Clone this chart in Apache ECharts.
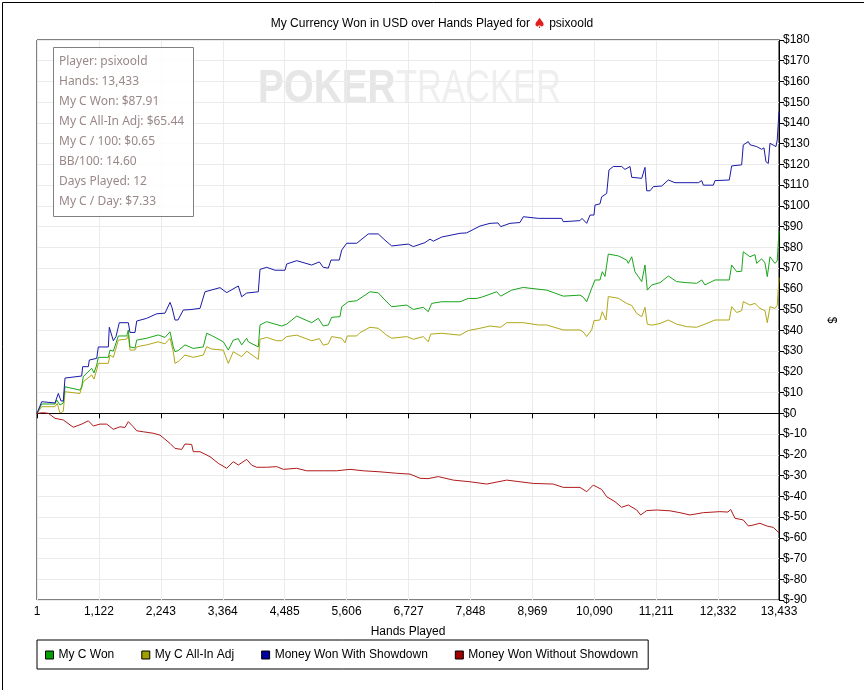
<!DOCTYPE html>
<html>
<head>
<meta charset="utf-8">
<title>My Currency Won</title>
<script src="https://cdn.jsdelivr.net/npm/echarts@6/dist/echarts.min.js"></script>
<style>
    html, body { margin: 0; padding: 0; background: #fff; }
    #chart { width: 864px; height: 690px; }
</style>
</head>
<body>
<div id="chart"></div>
<script>
// 横轴刻度
var handTicks = [1, 1122, 2243, 3364, 4485, 5606, 6727, 7848, 8969, 10090, 11211, 12332, 13433];

// My C Won
var wonHands = [1, 86, 327, 358, 417, 477, 508, 779, 810, 839, 991, 1033, 1082, 1111, 1292, 1322, 1383, 1473, 1625, 1654, 1684, 1775, 1806, 1987, 2197, 2318, 2409, 2468, 2499, 2558, 2680, 2830, 3011, 3073, 3163, 3373, 3464, 3554, 3645, 3706, 3797, 3826, 4007, 4038, 4159, 4219, 4431, 4521, 4702, 4973, 5093, 5183, 5274, 5335, 5485, 5517, 5636, 5788, 6029, 6179, 6300, 6422, 6693, 6813, 6994, 7084, 7145, 7327, 7658, 7808, 7960, 8050, 8322, 8395, 8594, 8804, 8926, 9228, 9528, 9830, 9890, 9952, 10042, 10102, 10192, 10234, 10283, 10343, 10524, 10676, 10705, 10767, 10825, 10948, 11007, 11049, 11129, 11279, 11430, 11580, 11762, 11943, 12034, 12093, 12274, 12533, 12576, 12667, 12757, 12786, 12907, 12998, 13029, 13119, 13179, 13221, 13270, 13360, 13401, 13433];
var wonValues = [0, 4.5, 4.5, 6.4, 4, 5, 12.8, 11.2, 12.8, 17.7, 21.7, 19.5, 23.3, 27, 27, 30.5, 30, 37.3, 37.3, 40.2, 32, 31.5, 35.3, 36.2, 37.8, 36.6, 39.3, 32, 29.7, 30.3, 33, 31.3, 32, 38.6, 37.5, 34.5, 30.5, 35.3, 36, 33, 36.2, 34.5, 32, 42.6, 44.2, 43.7, 42.1, 43, 46.9, 43.7, 45.8, 42.1, 42.6, 46.3, 46.6, 51.4, 53.8, 54.3, 58.6, 58.1, 54.6, 51.4, 52.2, 50.1, 51.1, 49, 53, 53.8, 53.8, 55.4, 55.4, 56, 58.6, 56.5, 59.4, 60.7, 60.3, 59.4, 56.5, 57, 56, 53.8, 60.3, 64.3, 64.3, 68.3, 66, 76.8, 75.9, 73.9, 72.3, 75.5, 68.3, 63.5, 71.5, 59.4, 61.9, 63, 66.2, 63.5, 63, 62.7, 64.3, 61.9, 64.3, 64.3, 71.5, 68.3, 68.5, 77.9, 75.5, 76.5, 72.3, 74.5, 72.5, 65.9, 75.5, 72.3, 73.5, 87.91];

// My C All-In Adj
var adjHands = [1, 86, 327, 368, 417, 477, 508, 779, 839, 991, 1033, 1082, 1111, 1292, 1322, 1383, 1473, 1625, 1654, 1684, 1775, 1806, 1987, 2197, 2318, 2409, 2468, 2499, 2558, 2680, 2830, 3011, 3073, 3163, 3373, 3464, 3554, 3706, 3797, 4007, 4038, 4159, 4340, 4431, 4521, 4702, 4973, 5111, 5183, 5274, 5335, 5517, 5576, 5618, 5788, 5848, 6029, 6179, 6331, 6422, 6693, 6813, 6994, 7084, 7128, 7327, 7658, 7808, 8020, 8202, 8395, 8504, 8804, 9076, 9228, 9528, 9830, 9890, 9952, 10042, 10084, 10192, 10234, 10301, 10343, 10524, 10676, 10767, 10857, 10948, 11007, 11049, 11129, 11279, 11430, 11580, 11762, 11943, 12093, 12274, 12533, 12576, 12667, 12757, 12786, 12907, 12998, 13089, 13179, 13221, 13270, 13360, 13401, 13433];
var adjValues = [0, 3.2, 3.2, 4.8, 0, 1, 10.4, 9.6, 15.2, 18.5, 16.5, 20.9, 24.1, 24.1, 28.1, 27, 35.3, 35.8, 37.7, 30.5, 30.5, 32.1, 33, 34.5, 33.5, 36.2, 29.7, 24.1, 25, 28.1, 27, 28.1, 32.1, 31, 30.5, 24.1, 29.7, 27.3, 30, 26, 35.7, 36.6, 35, 35, 37, 37.7, 35, 36, 32.9, 33.5, 37, 36.2, 34, 37.3, 37.3, 38.9, 41.5, 41, 37.7, 36.2, 37, 35.7, 37, 34.5, 38.2, 38.6, 37.7, 39.9, 41, 42.1, 41.5, 43.7, 43.7, 42.6, 42.6, 40.2, 40.2, 39.2, 37, 40.2, 44.7, 45, 49, 45, 56.3, 55.5, 53, 52, 48.2, 46.6, 51.1, 43, 42.5, 43.3, 45, 43, 41.8, 41.5, 43, 45, 45, 51.4, 48.6, 49.5, 53.9, 52.2, 53, 50.6, 49.5, 43.7, 51.4, 50.6, 52, 65.44];

// Money Won With Showdown
var sdHands = [1, 86, 327, 387, 435, 477, 508, 810, 828, 930, 948, 1082, 1111, 1292, 1310, 1341, 1383, 1431, 1491, 1654, 1684, 1775, 1806, 1987, 2168, 2318, 2409, 2445, 2499, 2553, 2649, 2770, 2952, 3042, 3314, 3435, 3645, 3706, 3797, 4007, 4038, 4159, 4309, 4490, 4521, 4702, 4973, 5111, 5183, 5274, 5323, 5473, 5517, 5607, 5788, 5998, 6179, 6300, 6422, 6722, 6813, 7024, 7115, 7175, 7327, 7658, 7779, 8020, 8202, 8346, 8395, 8563, 8744, 8804, 9076, 9499, 9528, 9830, 9867, 9952, 10012, 10084, 10102, 10192, 10223, 10314, 10355, 10433, 10585, 10645, 10736, 10767, 10948, 11007, 11038, 11098, 11158, 11310, 11430, 11550, 11972, 12034, 12063, 12244, 12274, 12533, 12576, 12757, 12786, 12877, 12907, 13029, 13119, 13161, 13197, 13239, 13270, 13378, 13401, 13433];
var sdValues = [0, 5.6, 5, 9.6, 6, 6, 17, 18, 22.5, 22.5, 25.7, 26.5, 32, 32, 41.5, 41.5, 35, 37, 43.7, 43.7, 39, 39, 44.5, 45.8, 48, 48.3, 53.5, 51, 45, 45, 49.8, 50, 50.6, 58.6, 60.6, 58.2, 61.4, 56.2, 58, 58.6, 69.4, 70.4, 69, 69, 72, 73.6, 71.5, 73, 70.4, 70, 73.9, 73.9, 78.7, 82, 82, 86.5, 86.5, 83.5, 80.7, 81.6, 80.4, 82.3, 84, 83, 85, 86.8, 87, 90.3, 91.6, 91.8, 90, 91.6, 92, 94.8, 94, 94, 92.4, 92.9, 94, 91.6, 95.6, 95.6, 100.4, 101, 104.4, 106, 117.3, 119, 119, 117.6, 119, 113.8, 113.3, 118.6, 107.3, 107.3, 109.3, 109.6, 112.5, 111.2, 111.2, 112.2, 110, 110, 112.2, 112.5, 119.3, 119.8, 129.4, 131, 129.5, 128.6, 127.3, 128, 121.3, 120.5, 130.2, 128.6, 131.8, 145.4];

// Money Won Without Showdown
var nsdHands = [1, 115, 206, 327, 477, 658, 810, 930, 1020, 1141, 1263, 1383, 1503, 1594, 1654, 1744, 1806, 1925, 2106, 2227, 2409, 2499, 2620, 2680, 2801, 2830, 2952, 3133, 3283, 3435, 3554, 3645, 3797, 3887, 3978, 4159, 4340, 4460, 4702, 4883, 5183, 5426, 5667, 5908, 6210, 6512, 6753, 6934, 7079, 7265, 7537, 7839, 8141, 8503, 8744, 8985, 9347, 9528, 9830, 9952, 10071, 10223, 10314, 10464, 10585, 10705, 10857, 10929, 11038, 11218, 11459, 11640, 11821, 12062, 12364, 12509, 12558, 12636, 12786, 12877, 12943, 13089, 13209, 13329, 13433];
var nsdValues = [0, 0.3, 0, -2.4, -3.2, -6.7, -5.2, -3.6, -6.1, -5.2, -5.2, -7.7, -6.5, -6.8, -4, -6.5, -8.4, -8.9, -9.6, -10.5, -14.5, -16.9, -17.4, -14.8, -15, -18.5, -18.5, -20.9, -24.1, -26.5, -23.3, -24.9, -22.2, -25, -26, -26, -25.7, -27, -26.5, -27.7, -27.7, -27.7, -27, -27.7, -28.2, -28.9, -29.3, -31.3, -31.5, -30.5, -32.2, -33, -34.1, -32.2, -33, -33.8, -34.1, -35.7, -35.7, -37.8, -34.6, -36.7, -40.2, -42.6, -45.3, -44.2, -46.6, -49, -46.9, -46.6, -47, -47.9, -49, -47.9, -47.4, -47.6, -46.3, -50.6, -51.4, -54.3, -54, -53, -54.3, -55, -57.6];

// 统计信息
var infoLines = ['Player: psixoold', 'Hands: 13,433', 'My C Won: $87.91', 'My C All-In Adj: $65.44',
    'My C / 100: $0.65', 'BB/100: 14.60', 'Days Played: 12', 'My C / Day: $7.33'];

function zip(xs, ys) {
    var arr = [];
    for (var i = 0; i < xs.length; i++) {
        arr.push([xs[i], ys[i]]);
    }
    return arr;
}

function fmtNum(v) {
    return String(Math.round(v)).replace(/\B(?=(\d{3})+(?!\d))/g, ',');
}

var font = 'Liberation Sans';
var myChart;

window.onload = function () {
    myChart = echarts.init(document.getElementById('chart'));

    var option = {
        animation: false,
        backgroundColor: '#fff',
        textStyle: { fontFamily: font },
        title: {
            text: '{t|My Currency Won in USD over Hands Played for }{s|♠}{t| psixoold}',
            left: 'center',
            top: 12,
            textStyle: {
                fontWeight: 'normal',
                rich: {
                    t: { fontFamily: font, fontSize: 12, fontWeight: 'normal', color: '#000' },
                    s: { fontFamily: 'DejaVu Sans', fontSize: 14, color: '#e02020' }
                }
            }
        },
        legend: {
            left: 37,
            top: 640,
            orient: 'horizontal',
            padding: [9, 10, 8, 8],
            itemGap: 27,
            itemWidth: 8,
            itemHeight: 8,
            itemStyle: { borderColor: '#000', borderWidth: 1 },
            borderColor: '#000',
            borderWidth: 1,
            textStyle: { fontFamily: font, fontSize: 12, color: '#000' },
            data: [
                { name: 'My C Won', icon: 'rect' },
                { name: 'My C All-In Adj', icon: 'rect' },
                { name: 'Money Won With Showdown', icon: 'rect' },
                { name: 'Money Won Without Showdown', icon: 'rect' }
            ]
        },
        grid: {
            left: 37,
            right: 85,
            top: 40,
            bottom: 90,
            show: true,
            borderColor: '#000',
            borderWidth: 1,
            backgroundColor: 'transparent'
        },
        xAxis: {
            type: 'value',
            min: 1,
            max: 13433,
            name: 'Hands Played',
            nameLocation: 'middle',
            nameGap: 26,
            nameTextStyle: { fontFamily: font, fontSize: 12, color: '#000' },
            axisLine: { lineStyle: { color: '#000' } },
            axisTick: { length: 5, lineStyle: { color: '#000' }, customValues: handTicks },
            axisLabel: {
                customValues: handTicks,
                color: '#000', fontSize: 12, fontFamily: font, margin: 6,
                formatter: function (v) { return fmtNum(v); }
            },
            splitLine: { show: true, lineStyle: { color: '#ebebeb' } }
        },
        yAxis: {
            type: 'value',
            position: 'right',
            min: -90,
            max: 180,
            interval: 10,
            name: '$',
            nameLocation: 'middle',
            nameGap: 46,
            nameRotate: -90,
            nameTextStyle: { fontFamily: font, fontSize: 12, color: '#000' },
            axisLine: { show: true, lineStyle: { color: '#000' } },
            axisTick: { show: true, length: 5, lineStyle: { color: '#000' } },
            axisLabel: {
                color: '#000', fontSize: 12, fontFamily: font, margin: 4,
                formatter: function (v) { return v < 0 ? '$-' + (-v) : '$' + v; }
            },
            splitLine: { show: true, lineStyle: { color: '#ebebeb' } }
        },
        series: [
            {
                name: 'My C Won', type: 'line', showSymbol: false, z: 4,
                lineStyle: { width: 1, color: '#1aa51a' },
                itemStyle: { color: '#00a000' },
                data: zip(wonHands, wonValues)
            },
            {
                name: 'My C All-In Adj', type: 'line', showSymbol: false, z: 3,
                lineStyle: { width: 1, color: '#b0a818' },
                itemStyle: { color: '#a0a000' },
                data: zip(adjHands, adjValues)
            },
            {
                name: 'Money Won With Showdown', type: 'line', showSymbol: false, z: 5,
                lineStyle: { width: 1, color: '#1a1aa8' },
                itemStyle: { color: '#0000a0' },
                data: zip(sdHands, sdValues)
            },
            {
                name: 'Money Won Without Showdown', type: 'line', showSymbol: false, z: 5,
                lineStyle: { width: 1, color: '#b01a1a' },
                itemStyle: { color: '#a00000' },
                data: zip(nsdHands, nsdValues),
                markLine: {
                    silent: true,
                    symbol: 'none',
                    label: { show: false },
                    lineStyle: { color: '#000', width: 1, type: 'solid' },
                    data: [{ yAxis: 0 }]
                }
            }
        ],
        graphic: [
            // 外框
            {
                type: 'rect', left: 0, top: 0, z: 10, silent: true,
                shape: { width: 863, height: 689 },
                style: { fill: 'none', stroke: '#000', lineWidth: 1 }
            },
            // 水印
            {
                type: 'text', x: 258, y: 66, scaleX: 0.84, z: 0, silent: true,
                style: {
                    text: 'POKER', fontFamily: font, fontWeight: 'bold', fontSize: 46, fill: '#e6e6e6'
                }
            },
            {
                type: 'text', x: 396, y: 66, scaleX: 0.75, z: 0, silent: true,
                style: {
                    text: 'TRACKER', fontFamily: font, fontSize: 46, fill: '#efefef'
                }
            },
            // 信息框
            {
                type: 'rect', left: 53, top: 47, z: 6, silent: true,
                shape: { width: 140, height: 169 },
                style: { fill: 'rgba(255,255,255,0.85)', stroke: '#808080', lineWidth: 1 }
            },
            {
                type: 'text', left: 59, top: 52, z: 7, silent: true,
                style: {
                    text: infoLines.join('\n'),
                    fontFamily: 'Noto Sans',
                    fontSize: 12,
                    lineHeight: 20,
                    fill: '#9a8888'
                }
            }
        ]
    };

    myChart.setOption(option);
};
</script>
</body>
</html>
